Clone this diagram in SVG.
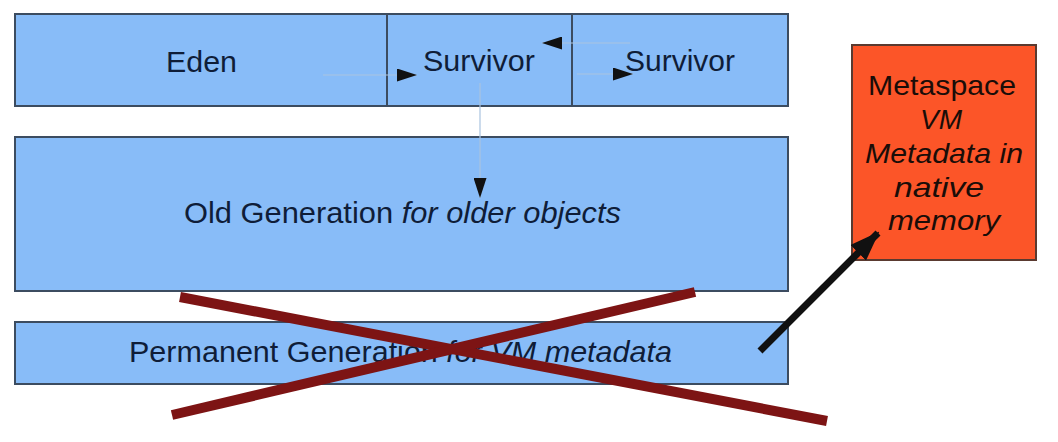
<svg xmlns="http://www.w3.org/2000/svg" width="1058" height="442" viewBox="0 0 1058 442">
<style>
.box{fill:#88bcf8;stroke:#3c4c60;stroke-width:2}
.t{font-family:"Liberation Sans",Arial,sans-serif;font-size:29px;fill:#0f1d38}
.m{font-family:"Liberation Sans",Arial,sans-serif;font-size:28px;fill:#1a0d08;text-anchor:middle}
.i{font-style:italic}
.thin{stroke:#a9c3e0;stroke-width:1.2;fill:none}
.cross{stroke:#7d1414;stroke-width:10;stroke-linecap:butt}
</style>
<defs>
<marker id="ah" markerWidth="20" markerHeight="13" refX="20" refY="6.5" orient="auto" markerUnits="userSpaceOnUse" viewBox="0 0 20 13">
<path d="M0,0 L20,6.5 L0,13 Z" fill="#111"/>
</marker>
<marker id="ahb" markerWidth="30" markerHeight="22" refX="28" refY="11" orient="auto" markerUnits="userSpaceOnUse" viewBox="0 0 30 22">
<path d="M0,0 L30,11 L0,22 Z" fill="#111"/>
</marker>
</defs>
<rect width="1058" height="442" fill="#ffffff"/>
<g id="eden">
<rect class="box" x="15" y="14" width="372" height="92"/>
<text class="t" x="166" y="72" textLength="71" lengthAdjust="spacingAndGlyphs">Eden</text>
</g>
<g id="survivor1">
<rect class="box" x="387" y="14" width="185" height="92"/>
<text class="t" x="423" y="71" textLength="112" lengthAdjust="spacingAndGlyphs">Survivor</text>
</g>
<g id="survivor2">
<rect class="box" x="572" y="14" width="216" height="92"/>
<text class="t" x="625" y="71" textLength="110" lengthAdjust="spacingAndGlyphs">Survivor</text>
</g>
<g id="old-generation">
<rect class="box" x="15" y="137" width="773" height="154"/>
<text class="t" x="184" y="223" textLength="437" lengthAdjust="spacingAndGlyphs">Old Generation <tspan class="i">for older objects</tspan></text>
</g>
<g id="permanent-generation">
<rect class="box" x="15" y="322" width="773" height="62"/>
<text class="t" x="129" y="362" textLength="543" lengthAdjust="spacingAndGlyphs">Permanent Generation <tspan class="i">for VM metadata</tspan></text>
</g>
<g id="metaspace">
<rect x="852" y="45" width="184" height="215" fill="#fc5528" stroke="#5a3a30" stroke-width="2"/>
<text class="m" x="942" y="95" textLength="148" lengthAdjust="spacingAndGlyphs">Metaspace</text>
<text class="m i" x="941" y="129" textLength="42" lengthAdjust="spacingAndGlyphs">VM</text>
<text class="m i" x="944" y="163" textLength="158" lengthAdjust="spacingAndGlyphs">Metadata in</text>
<text class="m i" x="939" y="197" textLength="90" lengthAdjust="spacingAndGlyphs">native</text>
<text class="m i" x="944" y="230" textLength="112" lengthAdjust="spacingAndGlyphs">memory</text>
</g>
<g id="connectors">
<line class="thin" x1="323" y1="75" x2="417" y2="75" marker-end="url(#ah)"/>
<line class="thin" x1="630" y1="43" x2="542" y2="43" marker-end="url(#ah)"/>
<line class="thin" x1="577" y1="74" x2="633" y2="74" marker-end="url(#ah)"/>
<line class="thin" x1="480" y1="83" x2="480" y2="198" marker-end="url(#ah)"/>
<line x1="760" y1="351" x2="878" y2="233" stroke="#111" stroke-width="7" marker-end="url(#ahb)"/>
</g>
<g id="cross">
<line class="cross" x1="180" y1="297" x2="827" y2="421"/>
<line class="cross" x1="172" y1="415" x2="695" y2="292"/>
</g>
</svg>
